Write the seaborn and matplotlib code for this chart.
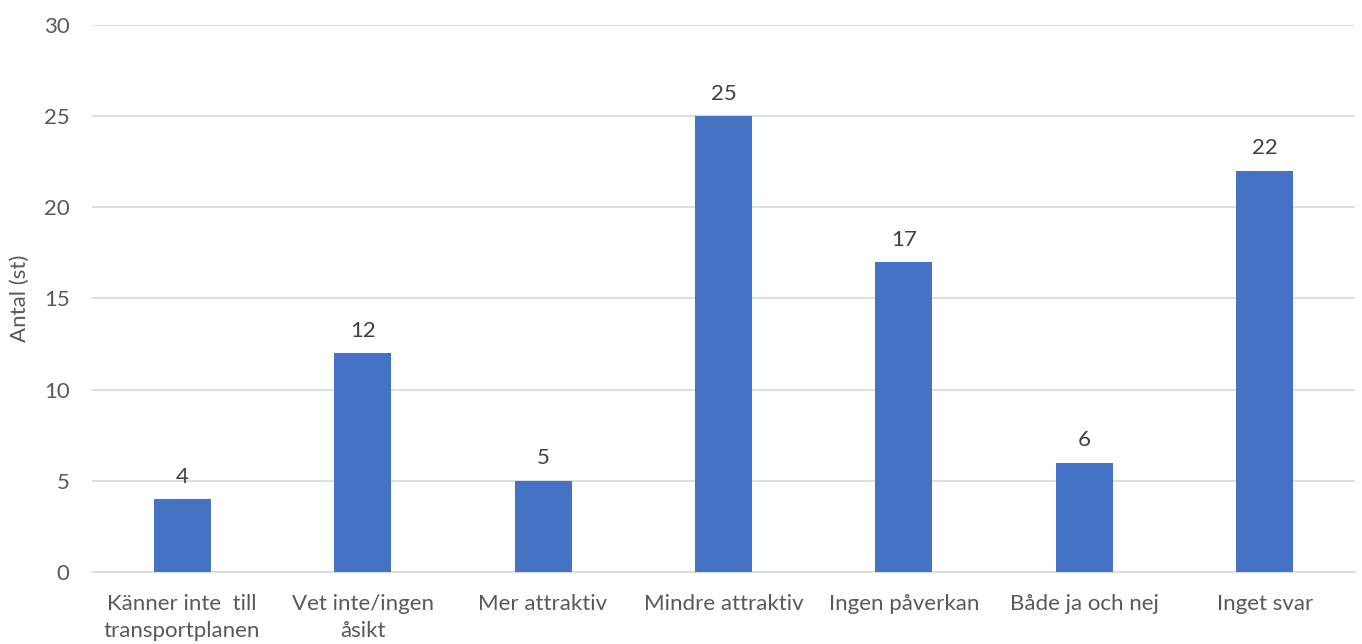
import matplotlib
matplotlib.use("Agg")
import matplotlib.pyplot as plt
import seaborn as sns
import pandas as pd

categories = ["Känner inte  till\ntransportplanen", "Vet inte/ingen\nåsikt", "Mer attraktiv",
              "Mindre attraktiv", "Ingen påverkan", "Både ja och nej", "Inget svar"]
values = [4, 12, 5, 25, 17, 6, 22]
y_ticks = [0, 5, 10, 15, 20, 25, 30]

sns.set_theme(style="white")
plt.rcParams['font.family'] = ['Lato', 'DejaVu Sans']

df = pd.DataFrame({"cat": categories, "val": values})

fig = plt.figure(figsize=(13.62, 6.44), dpi=100)
ax = fig.add_axes([0.0675, 0.1118, 0.9274, 0.8494])
sns.barplot(data=df, x="cat", y="val", color="#4472C4", saturation=1, width=0.316,
            linewidth=0, ax=ax, zorder=3)

ax.set_ylim(0, 30)
ax.set_xlim(-0.5, len(categories) - 0.5)
ax.set_yticks(y_ticks)
ax.yaxis.grid(True, color="#D9D9D9", linewidth=1.2, zorder=0)
ax.set_axisbelow(True)
for s in ["top", "right", "left"]:
    ax.spines[s].set_visible(False)
ax.spines["bottom"].set_color("#D9D9D9")
ax.spines["bottom"].set_linewidth(1.2)
ax.tick_params(axis="both", length=0, labelsize=16, colors="#595959")
ax.tick_params(axis="x", pad=16)
ax.tick_params(axis="y", pad=16)
for lbl in ax.get_xticklabels():
    lbl.set_linespacing(1.4)
ax.set_xlabel("")
ax.set_ylabel("Antal (st)", fontsize=16, color="#595959", labelpad=10)

for i, v in enumerate(values):
    ax.annotate(str(v), (i, v), xytext=(0, 9), textcoords="offset points",
                ha="center", va="bottom", fontsize=16, color="#404040")

fig.savefig("out.png", dpi=100)
